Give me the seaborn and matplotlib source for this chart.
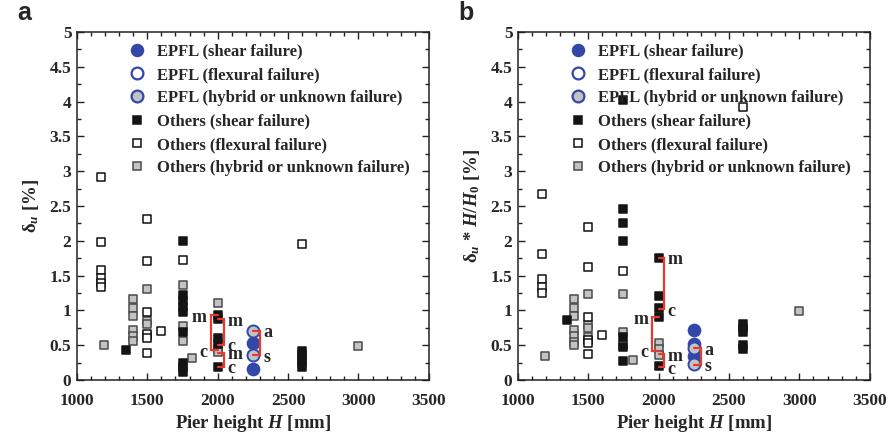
import pandas as pd
import seaborn as sns
import matplotlib.pyplot as plt
from matplotlib.lines import Line2D
from matplotlib.ticker import MultipleLocator

sns.set_style("ticks")
plt.rcParams['font.family'] = ['Liberation Serif', 'DejaVu Serif']
plt.rcParams['mathtext.fontset'] = 'custom'
plt.rcParams['mathtext.rm'] = 'Liberation Serif:bold'
plt.rcParams['mathtext.it'] = 'Liberation Serif:italic:bold'
plt.rcParams['mathtext.bf'] = 'Liberation Serif:bold'

# ---- panel a : drift delta_u ----
a_shear_H = [1350, 1750, 1750, 1750, 1750, 1750, 1750, 1750, 1750, 1750,
             2000, 2000, 2000, 2000, 2000, 2600, 2600, 2600, 2600, 2600]
a_shear = [0.43, 2.00, 1.22, 1.13, 1.05, 0.98, 0.69, 0.25, 0.18, 0.12,
           0.93, 0.87, 0.60, 0.52, 0.19, 0.42, 0.36, 0.30, 0.25, 0.19]
a_flex_H = [1170, 1170, 1170, 1170, 1170, 1170, 1500, 1500, 1500, 1500,
            1500, 1500, 1600, 1750, 2600]
a_flex = [2.92, 1.98, 1.58, 1.46, 1.40, 1.34, 2.32, 1.71, 0.97, 0.66,
          0.60, 0.39, 0.71, 1.72, 1.95]
a_hyb_H = [1190, 1400, 1400, 1400, 1400, 1400, 1400, 1500, 1500, 1500, 1500,
           1750, 1750, 1750, 1820, 2000, 2000, 2000, 3000]
a_hyb = [0.50, 1.17, 1.04, 0.92, 0.72, 0.63, 0.56, 1.31, 0.85, 0.80, 0.63,
         1.37, 0.77, 0.56, 0.32, 1.11, 0.45, 0.40, 0.49]
a_epfl_shear_H = [2250, 2250]
a_epfl_shear = [0.53, 0.16]
a_epfl_hyb_H = [2250, 2250]
a_epfl_hyb = [0.71, 0.36]

# ---- panel b : drift * H/H0 ----
b_shear_H = [1350, 1750, 1750, 1750, 1750, 1750, 1750, 1750,
             2000, 2000, 2000, 2000, 2000, 2600, 2600, 2600, 2600, 2600]
b_shear = [0.86, 4.02, 2.45, 2.25, 2.00, 0.62, 0.47, 0.27,
           1.76, 1.20, 1.04, 0.90, 0.20, 0.81, 0.75, 0.69, 0.50, 0.45]
b_flex_H = [1170, 1170, 1170, 1170, 1170, 1500, 1500, 1500, 1500, 1500,
            1500, 1600, 1750, 2600]
b_flex = [2.67, 1.81, 1.45, 1.33, 1.25, 2.20, 1.62, 0.91, 0.57, 0.53,
          0.37, 0.64, 1.56, 3.92]
b_hyb_H = [1190, 1400, 1400, 1400, 1400, 1400, 1400, 1400, 1500, 1500, 1500, 1500,
           1750, 1750, 1750, 1820, 2000, 2000, 2000, 3000]
b_hyb = [0.35, 1.17, 1.03, 0.92, 0.72, 0.63, 0.55, 0.50, 1.24, 0.79, 0.74, 0.62,
         1.24, 0.69, 0.51, 0.29, 0.53, 0.45, 0.36, 0.99]
b_epfl_shear_H = [2250, 2250, 2250]
b_epfl_shear = [0.72, 0.52, 0.34]
b_epfl_hyb_H = [2250, 2250]
b_epfl_hyb = [0.46, 0.23]

# brackets: (x of vertical, x of ends, y top, y bottom, top label, bottom label, side)
a_brackets = [(1949, 2000, 0.93, 0.43, 'm', 'c', 'left'),
              (2046, 2000, 0.87, 0.51, 'm', 'c', 'right'),
              (2046, 2000, 0.39, 0.19, 'm', 'c', 'right'),
              (2300, 2250, 0.71, 0.36, 'a', 's', 'right')]
b_brackets = [(2039, 2000, 1.76, 1.02, 'm', 'c', 'right'),
              (1954, 2000, 0.90, 0.42, 'm', 'c', 'left'),
              (2039, 2000, 0.37, 0.18, 'm', 'c', 'right'),
              (2300, 2250, 0.46, 0.22, 'a', 's', 'right')]

blue = '#3347a8'
red = '#e8392f'
grey = '#c3c3c3'

fig = plt.figure(figsize=(8.93, 4.38), dpi=100)
ax1 = fig.add_axes([0.0862, 0.1324, 0.394, 0.7946])
ax2 = fig.add_axes([0.5800, 0.1324, 0.394, 0.7946])

panels = [
    (ax1, a_shear_H, a_shear, a_flex_H, a_flex, a_hyb_H, a_hyb,
     a_epfl_shear_H, a_epfl_shear, a_epfl_hyb_H, a_epfl_hyb, a_brackets,
     r'δ$_{u}$ [%]', 'a'),
    (ax2, b_shear_H, b_shear, b_flex_H, b_flex, b_hyb_H, b_hyb,
     b_epfl_shear_H, b_epfl_shear, b_epfl_hyb_H, b_epfl_hyb, b_brackets,
     r'δ$_{u}$ * $H/H_0$ [%]', 'b'),
]

for (ax, sH, sV, fH, fV, hH, hV, eH, eV, ehH, ehV, brackets, ylab, tag) in panels:
    sns.scatterplot(x=hH, y=hV, ax=ax, marker='s', s=40, color=grey,
                    edgecolor='#4a4a4a', linewidth=1.1, zorder=3)
    sns.scatterplot(x=fH, y=fV, ax=ax, marker='s', s=40, color='white',
                    edgecolor='#111111', linewidth=1.1, zorder=3)
    sns.scatterplot(x=sH, y=sV, ax=ax, marker='s', s=40, color='#141414',
                    edgecolor='#141414', linewidth=1.1, zorder=3)
    sns.scatterplot(x=eH, y=eV, ax=ax, marker='o', s=75, color=blue,
                    edgecolor=blue, linewidth=1.2, zorder=4)
    sns.scatterplot(x=ehH, y=ehV, ax=ax, marker='o', s=75, color=grey,
                    edgecolor=blue, linewidth=1.4, zorder=4)

    for xv, xe, yt, yb, lt, lb, side in brackets:
        ax.plot([xe, xv, xv, xe], [yt, yt, yb, yb], color=red, lw=1.6,
                zorder=5, solid_joinstyle='miter')
        if side == 'left':
            tx, ha = xv - 25, 'right'
        else:
            tx, ha = xv + 25, 'left'
        ax.text(tx, yt - 0.03, lt, ha=ha, va='center', fontsize=13,
                fontweight='bold', zorder=6)
        ax.text(tx, yb - 0.03, lb, ha=ha, va='center', fontsize=13,
                fontweight='bold', zorder=6)

    ax.set_xlim(1000, 3500)
    ax.set_ylim(0, 5)
    ax.xaxis.set_major_locator(MultipleLocator(500))
    ax.xaxis.set_minor_locator(MultipleLocator(100))
    ax.yaxis.set_major_locator(MultipleLocator(0.5))
    ax.yaxis.set_minor_locator(MultipleLocator(0.25))
    ax.yaxis.set_major_formatter(plt.FuncFormatter(lambda v, p: f'{v:g}'))
    ax.tick_params(which='both', direction='in', top=True, right=True,
                   color='#222222', width=1.0)
    ax.tick_params(which='major', length=5, labelsize=12.5)
    ax.tick_params(axis='x', which='major', pad=9)
    ax.tick_params(axis='y', which='major', pad=4)
    ax.tick_params(which='minor', length=3)
    for lab in ax.get_xticklabels() + ax.get_yticklabels():
        lab.set_fontweight('bold')
    for sp in ax.spines.values():
        sp.set_linewidth(1.1)
        sp.set_color('#222222')
    ax.set_xlabel(r'Pier height $H$ [mm]', fontsize=13.5,
                  fontweight='bold', labelpad=3)
    ax.set_ylabel(ylab, fontsize=13.5, fontweight='bold', labelpad=6)
    ax.text(-0.17, 1.02, tag, transform=ax.transAxes, fontsize=18,
            fontweight='bold', family=['Liberation Sans', 'DejaVu Sans'],
            ha='left', va='bottom')

    handles = [
        Line2D([], [], ls='none', marker='o', ms=8.5, mfc=blue, mec=blue, mew=1.2),
        Line2D([], [], ls='none', marker='o', ms=8.5, mfc='white', mec=blue, mew=1.6),
        Line2D([], [], ls='none', marker='o', ms=8.5, mfc=grey, mec=blue, mew=1.6),
        Line2D([], [], ls='none', marker='s', ms=6, mfc='#141414', mec='#141414', mew=1.1),
        Line2D([], [], ls='none', marker='s', ms=6, mfc='white', mec='#111111', mew=1.1),
        Line2D([], [], ls='none', marker='s', ms=6, mfc=grey, mec='#4a4a4a', mew=1.1),
    ]
    labels = ['EPFL (shear failure)', 'EPFL (flexural failure)',
              'EPFL (hybrid or unknown failure)', 'Others (shear failure)',
              'Others (flexural failure)', 'Others (hybrid or unknown failure)']
    ax.legend(handles, labels, loc='upper left', bbox_to_anchor=(0.113, 1.0),
              frameon=False, handlelength=1.0, handletextpad=0.7,
              labelspacing=0.44, borderaxespad=0.3,
              prop={'size': 12, 'weight': 'bold'})

fig.savefig('out.png', dpi=100)
